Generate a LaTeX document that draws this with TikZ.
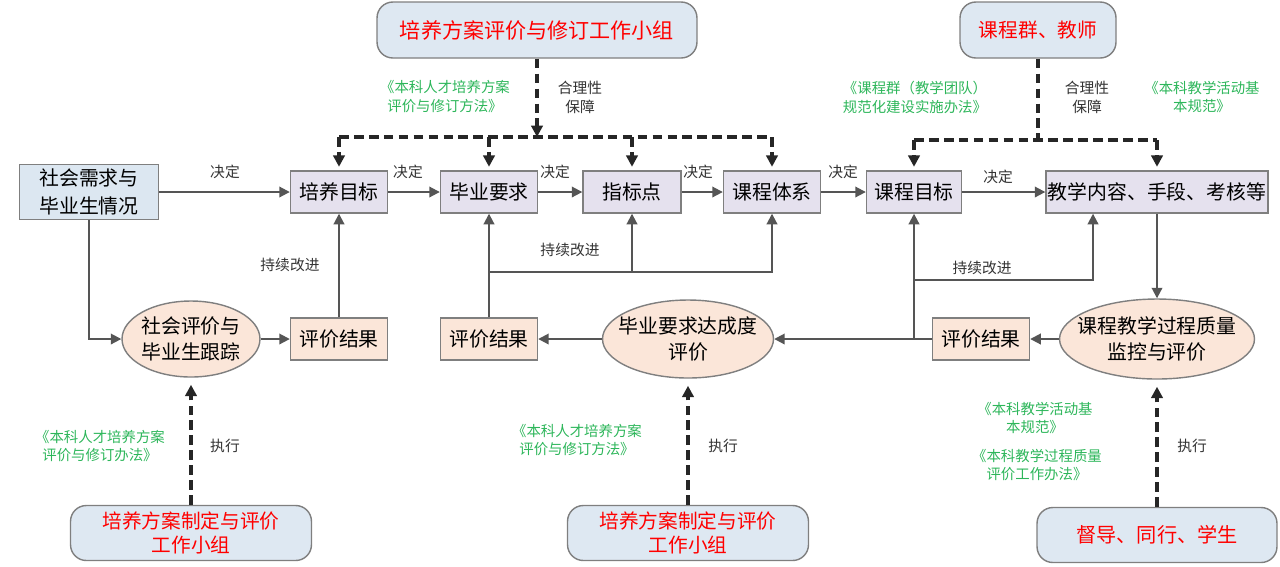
\documentclass[tikz,border=0pt]{standalone}
\usepackage{fontspec}
\setmainfont{Noto Sans CJK SC}
\usetikzlibrary{arrows.meta,shapes.geometric}
\definecolor{boxline}{HTML}{7F7F7F}
\definecolor{stagefill}{HTML}{E5E1EE}
\definecolor{sourcefill}{HTML}{DCE7F1}
\definecolor{evalfill}{HTML}{FBE6D9}
\definecolor{groupfill}{HTML}{DEE8F2}
\definecolor{rulegreen}{HTML}{2DB65A}
\definecolor{flowgray}{HTML}{555555}
\tikzset{
  stage/.style={draw=boxline, fill=stagefill, line width=0.8pt, inner sep=0pt,
    minimum width=1.94cm, minimum height=0.84cm, font=\fontsize{11.3}{16}\selectfont},
  source/.style={stage, fill=sourcefill, align=center, minimum width=2.78cm, minimum height=1.1cm},
  result/.style={stage, fill=evalfill},
  evalell/.style={ellipse, draw=boxline, fill=evalfill, line width=0.8pt, inner sep=0pt},
  evaltext/.style={align=center, font=\fontsize{11.3}{15}\selectfont},
  group/.style={draw=boxline, fill=groupfill, line width=0.8pt, rounded corners=9pt, inner sep=0pt,
    align=center, text=red, minimum height=1.1cm, font=\fontsize{11.2}{13.6}\selectfont},
  rule/.style={align=center, text=rulegreen, font=\fontsize{8.2}{10.8}\selectfont},
  note/.style={align=center, text=black!80, font=\fontsize{8.4}{10.8}\selectfont},
  flow/.style={draw=flowgray, line width=1.1pt, -{Triangle[length=6pt,width=6pt]}},
  guide/.style={draw=black!85, line width=2pt, dash pattern=on 5.5pt off 3pt},
  guidearrow/.style={guide, -{Triangle[length=6.5pt,width=6.5pt]}, shorten >=2pt}
}
\begin{document}
\begin{tikzpicture}[x=0.02cm, y=-0.02cm]
  \useasboundingbox (0,0) rectangle (1280,566);
  % top row
  \node[source] (need) at (89,192) {社会需求与\\毕业生情况};
  \node[stage] (goal) at (339,192) {培养目标};
  \node[stage] (req) at (489,192) {毕业要求};
  \node[stage, minimum width=1.96cm] (point) at (632,192) {指标点};
  \node[stage] (system) at (772,192) {课程体系};
  \node[stage, minimum width=1.9cm] (cgoal) at (914,192) {课程目标};
  \node[stage, minimum width=4.44cm] (content) at (1157,192) {教学内容、手段、考核等};
  % working groups
  \node[group, minimum width=6.4cm, minimum height=1.12cm, font=\fontsize{12}{14}\selectfont] (plangroup) at (537,30) {培养方案评价与修订工作小组};
  \node[group, minimum width=3.12cm, minimum height=1.12cm] (teachers) at (1038,30) {课程群、教师};
  \node[group, minimum width=4.82cm] (execA) at (191,533) {培养方案制定与评价\\工作小组};
  \node[group, minimum width=4.82cm] (execB) at (688,533) {培养方案制定与评价\\工作小组};
  \node[group, minimum width=4.8cm, font=\fontsize{11.5}{13.6}\selectfont] (execC) at (1157,535) {督导、同行、学生};
  % evaluation row
  \node[evalell, minimum width=2.76cm, minimum height=1.52cm,
    label={[evaltext]center:社会评价与\\毕业生跟踪}] (social) at (191,339) {};
  \node[result] (res1) at (339,339) {评价结果};
  \node[result] (res2) at (489,339) {评价结果};
  \node[evalell, minimum width=3.42cm, minimum height=1.56cm,
    label={[evaltext]center:毕业要求达成度\\评价}] (attain) at (688,339) {};
  \node[result] (res3) at (981,339) {评价结果};
  \node[evalell, minimum width=3.9cm, minimum height=1.6cm,
    label={[evaltext]center:课程教学过程质量\\监控与评价}] (monitor) at (1157,339) {};
  % documents
  \node[rule] (ruleA) at (445,97) {《本科人才培养方案\\评价与修订方法》};
  \node[rule] (ruleB) at (915,97) {《课程群（教学团队）\\规范化建设实施办法》};
  \node[rule] (ruleC) at (1202,97) {《本科教学活动基\\本规范》};
  \node[rule] (ruleD) at (100,446) {《本科人才培养方案\\评价与修订办法》};
  \node[rule] (ruleE) at (577,440) {《本科人才培养方案\\评价与修订方法》};
  \node[rule] (ruleF) at (1035,418) {《本科教学活动基\\本规范》};
  \node[rule] (ruleG) at (1037,465) {《本科教学过程质量\\评价工作办法》};
  % small labels
  \node[note] (decA) at (225,172) {决定};
  \node[note] (decB) at (408,172) {决定};
  \node[note] (decC) at (555,172) {决定};
  \node[note] (decD) at (698,172) {决定};
  \node[note] (decE) at (843,172) {决定};
  \node[note] (decF) at (998,177) {决定};
  \node[note] (sureA) at (580,97) {合理性\\保障};
  \node[note] (sureB) at (1087,97) {合理性\\保障};
  \node[note] (impA) at (290,265) {持续改进};
  \node[note] (impB) at (570,250) {持续改进};
  \node[note] (impC) at (982,268) {持续改进};
  \node[note] (runA) at (225,446) {执行};
  \node[note] (runB) at (723,446) {执行};
  \node[note] (runC) at (1192,446) {执行};
  % decision chain
  \draw[flow] (need) -- (goal);
  \draw[flow] (goal) -- (req);
  \draw[flow] (req) -- (point);
  \draw[flow] (point) -- (system);
  \draw[flow] (system) -- (cgoal);
  \draw[flow] (cgoal) -- (content);
  \draw[flow] (content) -- (monitor);
  \draw[flow] (need.south) |- (social.west);
  % evaluation and feedback
  \draw[flow] (social) -- (res1);
  \draw[flow] (res1) -- (goal);
  \draw[flow] (attain) -- (res2);
  \draw[flow] (res2) -- (req);
  \coordinate (fbA) at (489,272);
  \draw[flow] (fbA) -| (system);
  \draw[flow] (point |- fbA) -- (point);
  \draw[flow] (monitor) -- (res3);
  \draw[flow] (res3) -- (attain);
  \draw[flow] (cgoal |- res3) -- (cgoal);
  \coordinate (fbB) at (1093,280);
  \draw[flow] (cgoal |- fbB) -- (fbB) -- (fbB |- content.south);
  % guarantees
  \coordinate (guardA) at (537,137);
  \draw[guidearrow, shorten >=0pt] (plangroup) -- (guardA);
  \draw[guide] (goal |- guardA) -- (system |- guardA);
  \foreach \n in {goal, req, point, system}
    \draw[guidearrow] (\n |- guardA) -- (\n);
  \coordinate (guardB) at (1038,140);
  \draw[guide] (teachers) -- (guardB);
  \draw[guide] (cgoal |- guardB) -- (content |- guardB);
  \draw[guidearrow] (cgoal |- guardB) -- (cgoal);
  \draw[guidearrow] (content |- guardB) -- (content);
  % execution
  \draw[guidearrow, shorten >=4pt] (execA) -- (social);
  \draw[guidearrow, shorten >=4pt] (execB) -- (attain);
  \draw[guidearrow, shorten >=4pt] (execC) -- (monitor);
\end{tikzpicture}
\end{document}
